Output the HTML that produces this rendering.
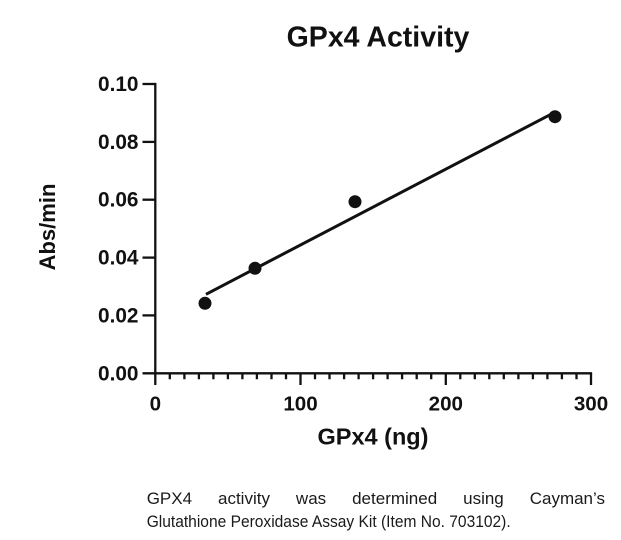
<!DOCTYPE html>
<html>
<head>
<meta charset="utf-8">
<style>
  html, body { margin:0; padding:0; background:#fff; }
  body { width:621px; height:540px; position:relative; overflow:hidden; }
  svg { position:absolute; left:0; top:0; }
  .cap { position:absolute; left:146.7px; width:458.3px; font-family:"Liberation Sans", sans-serif; font-size:17px; line-height:20px; color:#1a1a1a; }
  .l1 { top:489.1px; text-align:justify; text-align-last:justify; }
</style>
</head>
<body>
<svg width="621" height="540" viewBox="0 0 621 540" xmlns="http://www.w3.org/2000/svg">
  <g font-family="Liberation Sans, Arial, sans-serif" font-weight="bold" fill="#111">
    <text x="378" y="46.7" font-size="28.5" text-anchor="middle">GPx4 Activity</text>
    <!-- y tick labels -->
    <g font-size="20.8" text-anchor="end">
      <text x="138.5" y="91">0.10</text>
      <text x="138.5" y="148.9">0.08</text>
      <text x="138.5" y="206.7">0.06</text>
      <text x="138.5" y="264.6">0.04</text>
      <text x="138.5" y="322.4">0.02</text>
      <text x="138.5" y="380.3">0.00</text>
    </g>
    <!-- x tick labels -->
    <g font-size="20.6" text-anchor="middle">
      <text x="155.3" y="410.7">0</text>
      <text x="300.5" y="410.7">100</text>
      <text x="445.8" y="410.7">200</text>
      <text x="591" y="410.7">300</text>
    </g>
    <text x="373" y="444.3" font-size="23.5" text-anchor="middle">GPx4 (ng)</text>
    <text transform="translate(55,227) rotate(-90)" font-size="22" text-anchor="middle">Abs/min</text>
  </g>
  <g stroke="#111" stroke-width="2.3" fill="none" stroke-linecap="butt">
    <line x1="155.3" y1="82.9" x2="155.3" y2="385"/>
    <line x1="142.5" y1="373.3" x2="592.1" y2="373.3"/>
    <line x1="142.5" y1="84" x2="155.3" y2="84"/>
    <line x1="142.5" y1="141.9" x2="155.3" y2="141.9"/>
    <line x1="142.5" y1="199.7" x2="155.3" y2="199.7"/>
    <line x1="142.5" y1="257.6" x2="155.3" y2="257.6"/>
    <line x1="142.5" y1="315.4" x2="155.3" y2="315.4"/>
    <line x1="300.5" y1="373.3" x2="300.5" y2="385"/>
    <line x1="445.8" y1="373.3" x2="445.8" y2="385"/>
    <line x1="591" y1="373.3" x2="591" y2="385"/>
    <path d="M169.8 373.3V379.3 M184.4 373.3V379.3 M198.9 373.3V379.3 M213.4 373.3V379.3 M227.9 373.3V379.3 M242.4 373.3V379.3 M256.9 373.3V379.3 M271.5 373.3V379.3 M286.0 373.3V379.3
             M315.0 373.3V379.3 M329.5 373.3V379.3 M344.1 373.3V379.3 M358.6 373.3V379.3 M373.1 373.3V379.3 M387.6 373.3V379.3 M402.1 373.3V379.3 M416.7 373.3V379.3 M431.2 373.3V379.3
             M460.3 373.3V379.3 M474.8 373.3V379.3 M489.3 373.3V379.3 M503.8 373.3V379.3 M518.4 373.3V379.3 M532.9 373.3V379.3 M547.4 373.3V379.3 M561.9 373.3V379.3 M576.5 373.3V379.3"/>
  </g>
  <line x1="206" y1="294.3" x2="554" y2="112.7" stroke="#111" stroke-width="3"/>
  <g fill="#111">
    <circle cx="205" cy="303.3" r="6.5"/>
    <circle cx="255" cy="268.3" r="6.5"/>
    <circle cx="355" cy="201.7" r="6.5"/>
    <circle cx="555" cy="116.7" r="6.5"/>
  </g>
  <text x="146.7" y="527" font-family="Liberation Sans, sans-serif" font-size="17" fill="#1a1a1a" textLength="364" lengthAdjust="spacingAndGlyphs">Glutathione Peroxidase Assay Kit (Item No. 703102).</text>
</svg>
<div class="cap l1">GPX4 activity was determined using Cayman’s</div>
</body>
</html>
